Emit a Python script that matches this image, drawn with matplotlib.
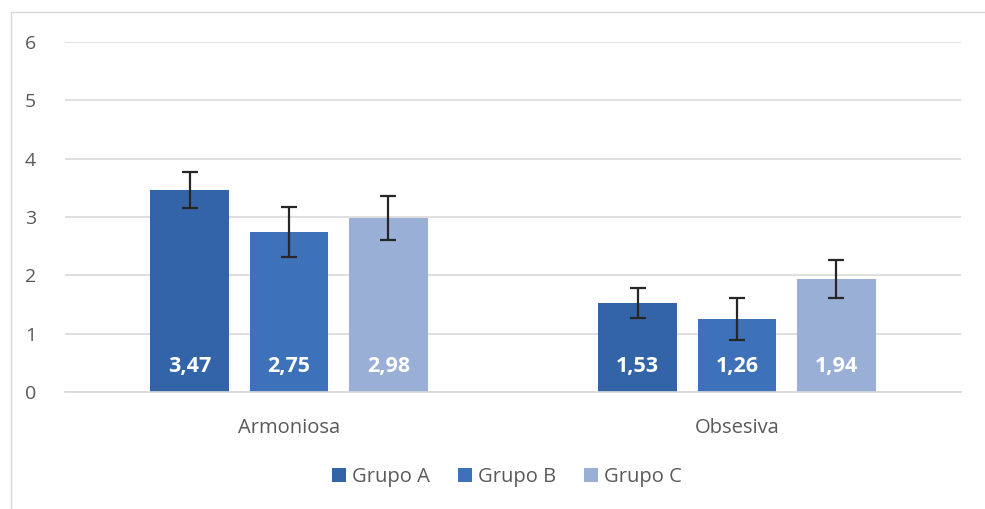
import matplotlib
matplotlib.use("Agg")
import matplotlib.pyplot as plt
import numpy as np
from matplotlib.patches import Rectangle

categories = ["Armoniosa", "Obsesiva"]
series = ["Grupo A", "Grupo B", "Grupo C"]
grupo_a = [3.47, 1.53]
grupo_b = [2.75, 1.26]
grupo_c = [2.98, 1.94]
err_a = [0.31, 0.26]
err_b = [0.43, 0.36]
err_c = [0.38, 0.32]
labels_a = ["3,47", "1,53"]
labels_b = ["2,75", "1,26"]
labels_c = ["2,98", "1,94"]
yticks = [0, 1, 2, 3, 4, 5, 6]

colors = ["#3464A8", "#3D72BA", "#9AAFD6"]
plt.rcParams['font.family'] = ['Open Sans', 'DejaVu Sans']

fig = plt.figure(figsize=(9.85, 5.09), dpi=100)
ax = fig.add_axes([65/985, 1-392/509, (961-65)/985, (392-42)/509])

# outer border
fig.patches.append(Rectangle((11/985, -0.01), 1.2, 1-12/509+0.01, transform=fig.transFigure,
                             fill=False, edgecolor="#D9D9D9", linewidth=1.0))

x = np.arange(len(categories))
w = 0.175
step = 0.222
vals = [grupo_a, grupo_b, grupo_c]
errs = [err_a, err_b, err_c]
labs = [labels_a, labels_b, labels_c]
for i in range(3):
    pos = x + (i - 1) * step
    ax.bar(pos, vals[i], width=w, color=colors[i], label=series[i], zorder=2)
    ax.errorbar(pos, vals[i], yerr=errs[i], fmt='none', ecolor="#262626",
                elinewidth=1.6, capsize=5.5, capthick=1.6, zorder=3)
    for p, t in zip(pos, labs[i]):
        ax.text(p, 0.44, t, ha='center', va='center', color='white',
                fontsize=15.5, fontweight='bold', zorder=4)

ax.set_xlim(-0.5, 1.5)
ax.set_ylim(0, 6)
ax.set_yticks(yticks)
ax.set_yticklabels([str(v) for v in yticks], color="#595959", fontsize=14)
ax.set_xticks(x)
ax.set_xticklabels(categories, color="#595959", fontsize=14.5)
ax.tick_params(axis='both', length=0)
ax.tick_params(axis='y', pad=21)
ax.tick_params(axis='x', pad=19)
ax.yaxis.grid(True, color="#D9D9D9", linewidth=1.2, zorder=0)
ax.set_axisbelow(True)
for s in ["top", "right", "left"]:
    ax.spines[s].set_visible(False)
ax.spines["bottom"].set_color("#D9D9D9")
ax.spines["bottom"].set_linewidth(1.2)

leg = fig.legend(loc='center', bbox_to_anchor=(507/985, 1-477/509), ncol=3, frameon=False,
                 fontsize=14.5, handlelength=0.7, handleheight=0.7, handletextpad=0.3,
                 columnspacing=1.4)
for t in leg.get_texts():
    t.set_color("#595959")

fig.savefig("out.png", dpi=100)
